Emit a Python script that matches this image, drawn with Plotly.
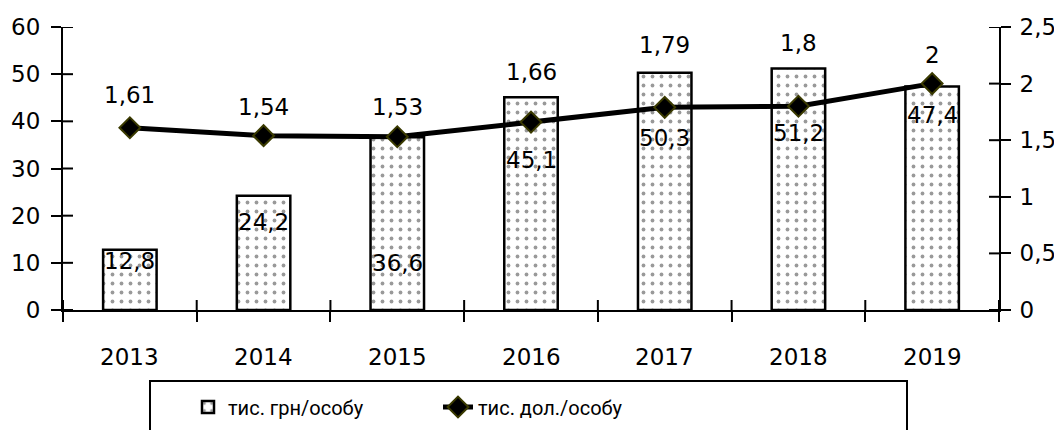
import plotly.graph_objects as go

years = ["2013", "2014", "2015", "2016", "2017", "2018", "2019"]
uah = [12.8, 24.2, 36.6, 45.1, 50.3, 51.2, 47.4]
usd = [1.61, 1.54, 1.53, 1.66, 1.79, 1.8, 2.0]
uah_labels = ["12,8", "24,2", "36,6", "45,1", "50,3", "51,2", "47,4"]
usd_labels = ["1,61", "1,54", "1,53", "1,66", "1,79", "1,8", "2"]
y1_ticks = [0, 10, 20, 30, 40, 50, 60]
y2_ticks = [0, 0.5, 1, 1.5, 2, 2.5]
y2_ticktext = ["0", "0,5", "1", "1,5", "2", "2,5"]
# label pixel offsets (manual placement as in original)
uah_shift = [-11, -26, -126, -63, -65, -64, -29]
usd_shift = [33, 29, 30, 50, 62, 63, 29]

FONT = "DejaVu Sans"
FS = 23
LFONT = "Roboto"
LFS = 20

# page body has an 8px offset; figure geometry compensates
W, H = 1054, 422
L, R, T, B = 55, 63, 19, 120
PW = W - L - R
PH = H - T - B
TL = 10  # tick length on each side of the axis (ticks cross the axes)


def px_x(x):
    return (x - 8 - L) / PW


def px_y(y):
    return (H - B - (y - 8)) / PH


n = len(years)
idx = list(range(n))
boundaries = [i - 0.5 for i in range(n + 1)]

fig = go.Figure()
fig.add_trace(go.Bar(
    x=idx, y=uah, name="тис. грн/особу", width=0.4,
    marker=dict(color="white", line=dict(color="black", width=2.5),
                pattern=dict(shape=".", fgcolor="#333", bgcolor="white", size=9, solidity=0.14)),
    yaxis="y",
))
fig.add_trace(go.Scatter(
    x=idx, y=usd, name="тис. дол./особу", mode="lines+markers",
    line=dict(color="black", width=5),
    marker=dict(symbol="diamond", size=16, color="black", line=dict(color="#3a3a00", width=2)),
    yaxis="y2",
))

for i in idx:
    fig.add_annotation(x=i, y=uah[i], xref="x", yref="y", text=uah_labels[i], showarrow=False,
                       yshift=uah_shift[i], font=dict(family=FONT, size=FS, color="black"))
    fig.add_annotation(x=i, y=usd[i], xref="x", yref="y2", text=usd_labels[i], showarrow=False,
                       yshift=usd_shift[i], font=dict(family=FONT, size=FS, color="black"))
    # category labels under the x axis
    fig.add_annotation(x=i, y=0, xref="x", yref="paper", text=years[i], showarrow=False,
                       yanchor="middle", yshift=-47, font=dict(family=FONT, size=FS, color="black"))

# inward halves of the crossing tick marks
tick_line = dict(type="line", line=dict(color="black", width=2), layer="above")
shapes = []
for b in boundaries:
    shapes.append(dict(**tick_line, xref="x", x0=b, x1=b, yref="paper", ysizemode="pixel",
                       yanchor=0, y0=0, y1=TL))
for v in y1_ticks:
    shapes.append(dict(**tick_line, yref="y", y0=v, y1=v, xref="paper", xsizemode="pixel",
                       xanchor=0, x0=0, x1=TL))
for v in y2_ticks:
    shapes.append(dict(**tick_line, yref="y2", y0=v, y1=v, xref="paper", xsizemode="pixel",
                       xanchor=1, x0=-TL, x1=0))
shapes.append(dict(type="rect", xref="paper", yref="paper", x0=px_x(150), x1=px_x(907),
                   y0=px_y(445), y1=px_y(381), line=dict(color="black", width=2)))

axis_common = dict(showgrid=False, zeroline=False, showline=True, linecolor="black", linewidth=2,
                   tickcolor="black", tickwidth=2, ticklen=TL, ticks="outside")

fig.update_layout(
    width=W, height=H, autosize=False,
    margin=dict(l=L, r=R, t=T, b=B, autoexpand=False),
    paper_bgcolor="white", plot_bgcolor="white",
    font=dict(family=FONT, size=FS, color="black"),
    showlegend=True,
    xaxis=dict(**axis_common, type="linear", range=[-0.5, 6.5], tickmode="array",
               tickvals=boundaries, ticktext=[""] * len(boundaries)),
    yaxis=dict(**axis_common, range=[0, 60], tickvals=y1_ticks, ticklabelstandoff=6),
    yaxis2=dict(**axis_common, range=[0, 2.5], side="right", overlaying="y",
                tickvals=y2_ticks, ticktext=y2_ticktext, ticklabelstandoff=4),
    legend=dict(orientation="h", x=px_x(188), y=px_y(407), xanchor="left", yanchor="middle",
                entrywidth=205, entrywidthmode="pixels", font=dict(family=LFONT, size=LFS),
                bgcolor="rgba(0,0,0,0)", borderwidth=0),
    shapes=shapes,
)

fig.write_html("out.html")
